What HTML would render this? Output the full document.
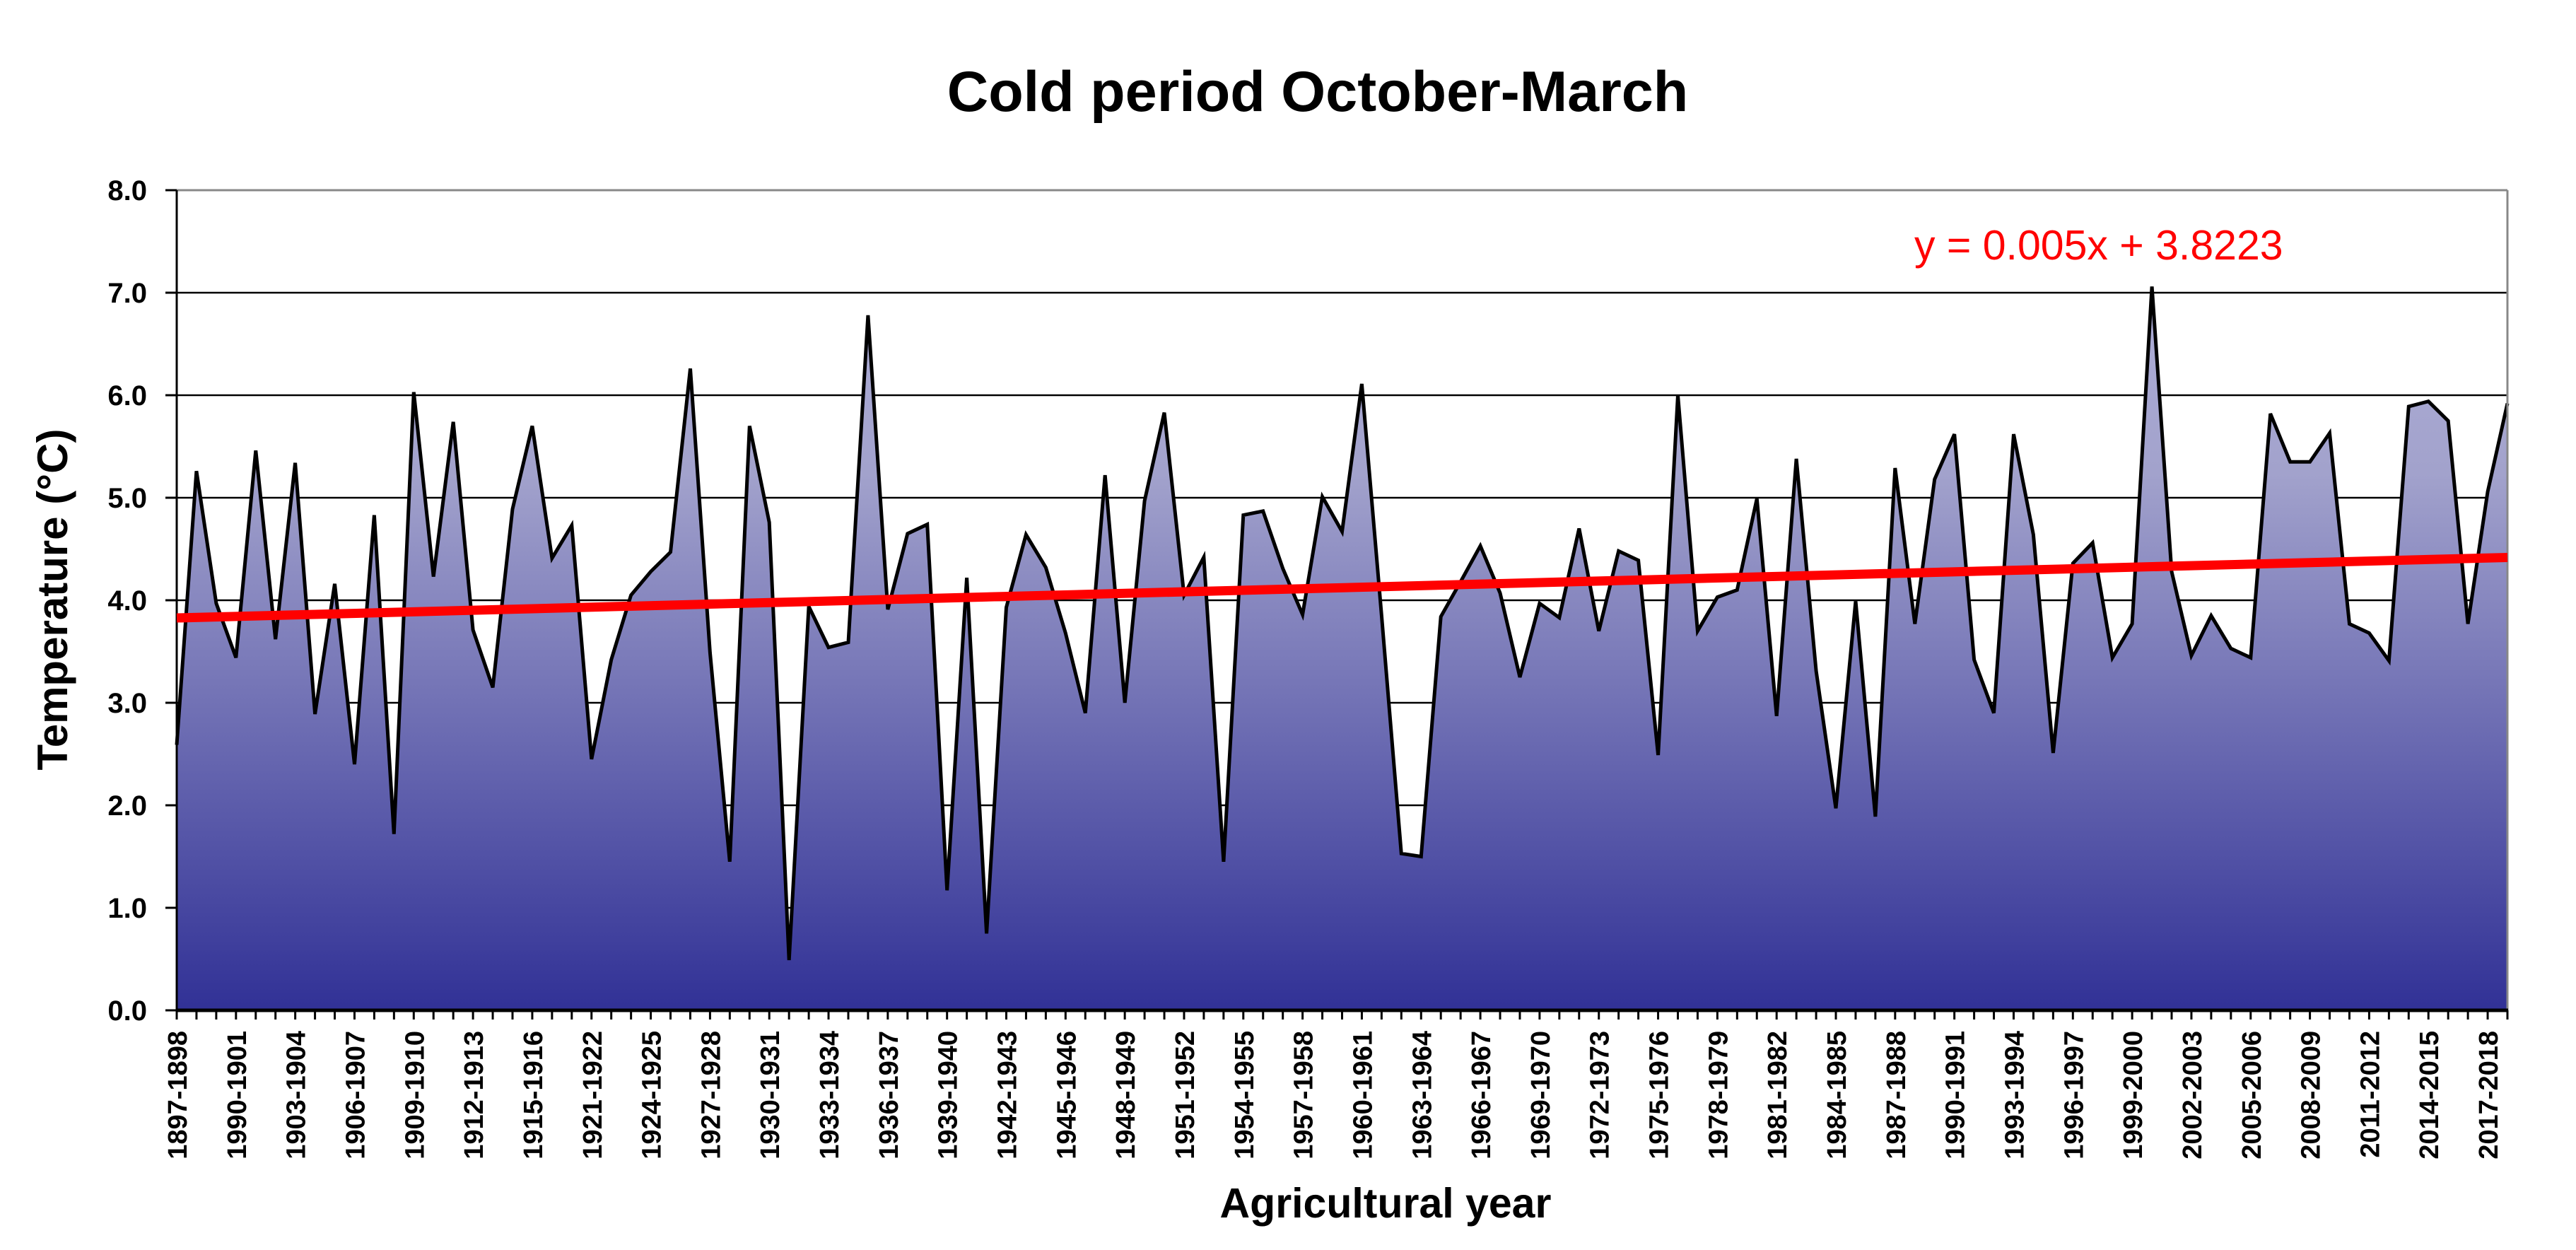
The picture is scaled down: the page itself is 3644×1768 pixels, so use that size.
<!DOCTYPE html>
<html><head><meta charset="utf-8"><style>
html,body{margin:0;padding:0;background:#fff;}
svg{display:block;font-family:"Liberation Sans",Arial,sans-serif;}
</style></head><body>
<svg id="chart" width="3644" height="1768" viewBox="0 0 3644 1768" xmlns="http://www.w3.org/2000/svg">
<defs>
<linearGradient id="areaGrad" gradientUnits="userSpaceOnUse" x1="0" y1="260" x2="0" y2="1429">
<stop offset="0" stop-color="#b4b4dc"/>
<stop offset="0.35" stop-color="#a2a2cc"/>
<stop offset="1" stop-color="#313196"/>
</linearGradient>
</defs>
<text x="1864" y="157" text-anchor="middle" font-size="81" font-weight="bold" fill="#000">Cold period October-March</text>
<text transform="translate(95,848) rotate(-90)" text-anchor="middle" font-size="60" font-weight="bold" fill="#000">Temperature (°C)</text>
<text x="1960" y="1722" text-anchor="middle" font-size="59" font-weight="bold" fill="#000">Agricultural year</text>
<g id="grid"></g>
<g id="area"></g>
<g id="axes"></g>
<g id="trend"></g>
<text x="2708" y="367" font-size="59" fill="#ff0000">y = 0.005x + 3.8223</text>
</svg>
<script>
const values = [2.59,5.26,3.97,3.44,5.46,3.62,5.34,2.89,4.16,2.40,4.83,1.72,6.03,4.23,5.74,3.71,3.15,4.89,5.70,4.41,
4.73,2.45,3.42,4.05,4.28,4.47,6.26,3.49,1.45,5.70,4.76,0.49,3.94,3.54,3.59,6.78,3.91,4.65,4.74,1.17,
4.22,0.75,3.93,4.64,4.32,3.68,2.90,5.22,3.00,4.97,5.83,4.05,4.42,1.45,4.83,4.87,4.31,3.86,5.01,4.67,
6.11,3.85,1.53,1.50,3.84,4.18,4.53,4.07,3.25,3.97,3.83,4.70,3.70,4.48,4.39,2.49,6.00,3.70,4.03,4.10,
4.99,2.87,5.38,3.31,1.97,3.99,1.89,5.29,3.77,5.18,5.62,3.42,2.90,5.62,4.64,2.51,4.36,4.56,3.44,3.77,
7.06,4.28,3.46,3.85,3.53,3.44,5.82,5.35,5.35,5.63,3.77,3.68,3.41,5.89,5.94,5.75,3.77,5.06,5.92];
const xLabels = ["1897-1898","1990-1901","1903-1904","1906-1907","1909-1910","1912-1913","1915-1916","1921-1922","1924-1925","1927-1928",
"1930-1931","1933-1934","1936-1937","1939-1940","1942-1943","1945-1946","1948-1949","1951-1952","1954-1955","1957-1958",
"1960-1961","1963-1964","1966-1967","1969-1970","1972-1973","1975-1976","1978-1979","1981-1982","1984-1985","1987-1988",
"1990-1991","1993-1994","1996-1997","1999-2000","2002-2003","2005-2006","2008-2009","2011-2012","2014-2015","2017-2018"];
const yTicks = [0,1,2,3,4,5,6,7,8];
const trendSlope = [0.005];
const trendIntercept = [3.8223];

const NS="http://www.w3.org/2000/svg";
const L=250,R=3547,T=269,B=1429,YMAX=8;
const n=values.length;
const xs=i=>L+(R-L)*i/(n-1);
const ys=v=>B-(B-T)*v/YMAX;
function mk(tag,attrs,parent){const e=document.createElementNS(NS,tag);for(const k in attrs)e.setAttribute(k,attrs[k]);parent.appendChild(e);return e;}
const grid=document.getElementById('grid'),area=document.getElementById('area'),axes=document.getElementById('axes'),trend=document.getElementById('trend');

yTicks.forEach(v=>{
  if(v>0&&v<YMAX){
    const g=mk('line',{x1:L,x2:R,y1:ys(v),y2:ys(v),stroke:'#000','stroke-width':2.5},grid);
    
    
  }
  const t=mk('line',{x1:L-16,x2:L,y1:ys(v),y2:ys(v),stroke:'#000','stroke-width':3},axes);
  
  
  const lb=mk('text',{x:208,y:ys(v)+14,'text-anchor':'end','font-size':40,'font-weight':'bold',fill:'#000'},axes);
  lb.textContent=v.toFixed(1);
  
  
});

let d='M'+xs(0)+','+B;
values.forEach((v,i)=>{d+=' L'+xs(i).toFixed(1)+','+ys(v).toFixed(1);});
d+=' L'+xs(n-1)+','+B+' Z';
const ap=mk('path',{d:d,fill:'url(#areaGrad)',stroke:'none'},area);


let ld='';
values.forEach((v,i)=>{ld+=(i?' L':'M')+xs(i).toFixed(1)+','+ys(v).toFixed(1);});
const lp=mk('path',{d:ld,fill:'none',stroke:'#000','stroke-width':5,'stroke-linejoin':'miter','stroke-miterlimit':4},area);



// borders
const tb=mk('line',{x1:L,x2:R,y1:T,y2:T,stroke:'#888','stroke-width':3},axes);


const rb=mk('line',{x1:R,x2:R,y1:T,y2:B,stroke:'#888','stroke-width':3},axes);


const ya=mk('line',{x1:L,x2:L,y1:T,y2:B+2,stroke:'#000','stroke-width':3},axes);


const xa=mk('line',{x1:L,x2:R+1,y1:B,y2:B,stroke:'#000','stroke-width':5},axes);



for(let i=0;i<n;i++){
  const t=mk('line',{x1:xs(i),x2:xs(i),y1:B,y2:B+13,stroke:'#000','stroke-width':3},axes);
  
  
}
xLabels.forEach((s,k)=>{
  const x=xs(k*3);
  const t=mk('text',{transform:'translate('+(x+14)+',1458) rotate(-90)','text-anchor':'end','font-size':38,'font-weight':'bold',fill:'#000'},axes);
  t.textContent=s;
  
  
});

const y0=trendIntercept[0]+trendSlope[0]*1, y1=trendIntercept[0]+trendSlope[0]*n;
const tl=mk('line',{x1:L,x2:R,y1:ys(y0),y2:ys(y1),stroke:'#ff0000','stroke-width':13},trend);


</script>
</body></html>
